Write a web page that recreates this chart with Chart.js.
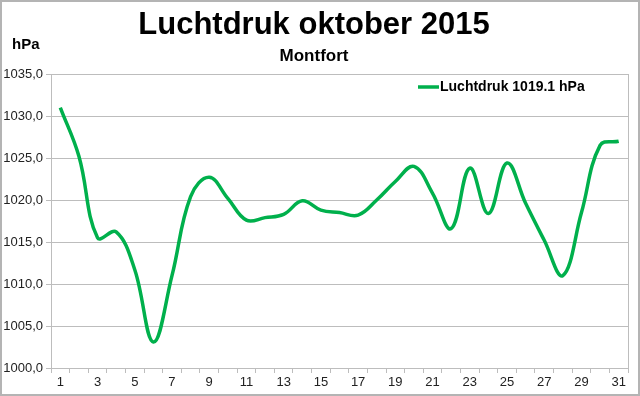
<!DOCTYPE html>
<html>
<head>
<meta charset="utf-8">
<script src="https://cdn.jsdelivr.net/npm/chart.js@4.4.1/dist/chart.umd.min.js"></script>
<style>
    body { margin: 0; background: #fff; }
    #wrap { width: 640px; height: 396px; }
</style>
</head>
<body>
<div id="wrap"><canvas id="myChart" width="640" height="396"></canvas></div>
<script>
// dagen van oktober 2015
const days = ['1','2','3','4','5','6','7','8','9','10','11','12','13','14','15','16','17','18','19','20','21','22','23','24','25','26','27','28','29','30','31'];
const pressure = [1031.0, 1025.2, 1015.5, 1016.2, 1011.7, 1003.1, 1011.0, 1020.4, 1022.7, 1020.2,
    1017.6, 1017.9, 1018.3, 1019.9, 1018.8, 1018.5, 1018.2, 1020.0, 1022.2, 1024.0,
    1020.8, 1016.6, 1023.8, 1018.4, 1024.4, 1019.6, 1015.2, 1011.0, 1018.5, 1026.5, 1027.0];
const yMin = 1000, yMax = 1035, yStep = 5;
const legendLabel = 'Luchtdruk 1019.1 hPa';
const unitLabel = 'hPa';

const fontFam = '"Liberation Sans", Arial, sans-serif';
const green = '#00b04c';
const gridGray = '#bdbdbd';

const extras = {
    id: 'extras',
    beforeDraw: function (chart) {
        const ctx = chart.ctx;
        ctx.save();
        ctx.fillStyle = '#fff';
        ctx.fillRect(0, 0, chart.width, chart.height);
        ctx.restore();
    },
    afterDraw: function (chart) {
        const ctx = chart.ctx;
        const a = chart.chartArea;
        ctx.save();
        // plot rand rechts
        ctx.strokeStyle = gridGray;
        ctx.lineWidth = 1;
        ctx.beginPath();
        ctx.moveTo(Math.round(a.right) + 0.5, a.top);
        ctx.lineTo(Math.round(a.right) + 0.5, a.bottom);
        ctx.stroke();
        // eenheid
        ctx.fillStyle = '#000';
        ctx.font = 'bold 15px ' + fontFam;
        ctx.textBaseline = 'middle';
        ctx.textAlign = 'left';
        ctx.fillText(unitLabel, 12, 45);
        // legenda
        ctx.strokeStyle = green;
        ctx.lineWidth = 3.5;
        ctx.beginPath();
        ctx.moveTo(418, 87);
        ctx.lineTo(439, 87);
        ctx.stroke();
        ctx.font = 'bold 14px ' + fontFam;
        ctx.fillText(legendLabel, 440, 87);
        // buitenrand
        ctx.strokeStyle = '#b4b4b4';
        ctx.lineWidth = 2;
        ctx.strokeRect(1, 1, chart.width - 2, chart.height - 2);
        ctx.restore();
    }
};

const ctx = document.getElementById('myChart').getContext('2d');
const myChart = new Chart(ctx, {
    type: 'line',
    data: {
        labels: days,
        datasets: [{
            label: legendLabel,
            data: pressure,
            borderColor: green,
            borderWidth: 3.5,
            pointRadius: 0,
            tension: 0.4,
            fill: false
        }]
    },
    options: {
        responsive: false,
        animation: false,
        layout: {
            padding: { top: 0, right: 12, bottom: 0, left: 0 }
        },
        plugins: {
            legend: { display: false },
            tooltip: { enabled: false },
            title: {
                display: true,
                text: 'Luchtdruk oktober 2015',
                color: '#000',
                font: { family: fontFam, size: 31, weight: 'bold', lineHeight: 1.2 },
                padding: { top: 7, bottom: 0 }
            },
            subtitle: {
                display: true,
                text: 'Montfort',
                color: '#000',
                font: { family: fontFam, size: 17, weight: 'bold', lineHeight: 1.2 },
                padding: { top: 2, bottom: 7.4 }
            }
        },
        scales: {
            x: {
                offset: true,
                grid: {
                    offset: true,
                    drawOnChartArea: false,
                    drawTicks: true,
                    tickLength: 5,
                    color: gridGray
                },
                border: { color: gridGray },
                ticks: {
                    autoSkip: false,
                    maxRotation: 0,
                    padding: 2,
                    color: '#222',
                    font: { family: fontFam, size: 13 },
                    callback: function (val, i) {
                        return i % 2 === 0 ? this.getLabelForValue(val) : '';
                    }
                },
                afterFit: function (scale) { scale.height = 28; }
            },
            y: {
                min: yMin,
                max: yMax,
                grid: {
                    color: gridGray,
                    tickLength: 5
                },
                border: { color: gridGray },
                ticks: {
                    stepSize: yStep,
                    padding: 3,
                    color: '#222',
                    font: { family: fontFam, size: 13 },
                    callback: function (v) { return v.toFixed(1).replace('.', ','); }
                },
                afterFit: function (scale) { scale.width = 51; }
            }
        }
    },
    plugins: [extras]
});
</script>
</body>
</html>
